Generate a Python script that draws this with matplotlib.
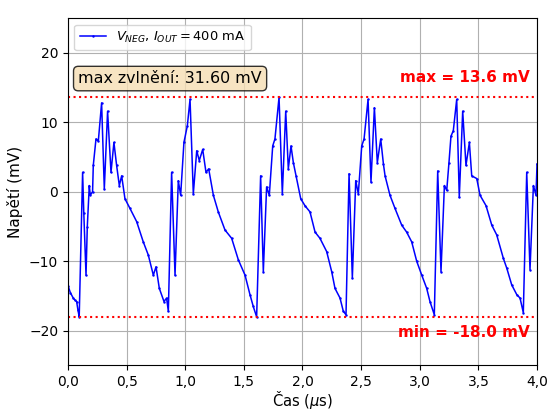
import matplotlib
matplotlib.use("Agg")
import matplotlib.pyplot as plt
from matplotlib.ticker import FuncFormatter

# Measured ripple of the negative rail (time in microseconds, voltage in mV)
t_us = [
    0.000, 0.020, 0.045, 0.060, 0.074, 0.085, 0.096, 0.125, 0.135, 0.154,
    0.165, 0.182, 0.190, 0.210, 0.216, 0.239, 0.259, 0.287, 0.310, 0.338,
    0.367, 0.392, 0.415, 0.438, 0.458, 0.486, 0.529, 0.586, 0.642, 0.685,
    0.728, 0.751, 0.779, 0.819, 0.841, 0.856, 0.884, 0.913, 0.941, 0.961,
    0.989, 1.018, 1.041, 1.069, 1.098, 1.120, 1.149, 1.177, 1.200, 1.240,
    1.282, 1.339, 1.396, 1.453, 1.510, 1.552, 1.580, 1.609, 1.643, 1.666,
    1.694, 1.717, 1.746, 1.765, 1.800, 1.828, 1.857, 1.879, 1.902, 1.922,
    1.945, 1.985, 2.021, 2.064, 2.107, 2.149, 2.206, 2.249, 2.277, 2.320,
    2.348, 2.371, 2.397, 2.425, 2.454, 2.476, 2.505, 2.525, 2.559, 2.584,
    2.613, 2.638, 2.667, 2.690, 2.704, 2.746, 2.789, 2.846, 2.888, 2.931,
    2.974, 3.017, 3.059, 3.087, 3.124, 3.153, 3.181, 3.210, 3.230, 3.249,
    3.266, 3.286, 3.315, 3.337, 3.366, 3.394, 3.423, 3.443, 3.486, 3.514,
    3.565, 3.614, 3.656, 3.713, 3.742, 3.784, 3.827, 3.855, 3.883, 3.912,
    3.940, 3.969, 3.991, 4.000,
]
v_mV = [
    -13.5, -14.5, -15.3, -15.6, -15.8, -17.0, -18.0, 2.8, -3.0, -12.0,
    -5.0, 0.9, -0.5, 0.0, 3.8, 7.6, 7.3, 12.8, 0.4, 11.6,
    2.8, 7.1, 3.8, 0.9, 2.3, -1.0, -2.4, -4.3, -7.2, -9.1,
    -12.0, -10.8, -13.9, -15.8, -15.3, -17.2, 2.8, -12.0, 1.6, -0.5,
    7.1, 9.5, 13.3, -0.3, 5.9, 4.5, 6.1, 2.8, 3.3, -0.5,
    -2.9, -5.5, -6.7, -9.8, -12.0, -14.8, -16.5, -18.0, 2.3, -11.5,
    0.7, -0.5, 6.6, 7.6, 13.6, -0.3, 11.6, 3.3, 6.6, 4.2,
    2.3, -1.0, -2.0, -2.9, -5.8, -6.7, -8.6, -11.5, -13.9, -15.3,
    -17.2, -17.7, 2.6, -12.4, 1.6, -0.3, 6.6, 7.6, 13.3, 1.4,
    12.1, 4.2, 7.6, 4.0, 2.3, -0.5, -2.4, -4.8, -5.8, -7.2,
    -10.0, -12.0, -13.9, -15.8, -17.7, 3.0, -11.5, 0.9, 0.2, 4.2,
    8.0, 8.8, 13.3, -0.8, 11.6, 3.8, 7.1, 2.3, 1.9, -0.5,
    -2.0, -4.8, -6.2, -9.6, -11.0, -13.4, -14.8, -15.3, -17.4, 2.8,
    -11.2, 0.9, -0.5, 4.0,
]

x_ticks = [0.0, 0.5, 1.0, 1.5, 2.0, 2.5, 3.0, 3.5, 4.0]
y_ticks = [-20, -10, 0, 10, 20]

v_max = max(v_mV)
v_min = min(v_mV)
ripple = v_max - v_min

fig = plt.figure(figsize=(5.48, 4.12), dpi=100)
ax = fig.add_axes([0.124, 0.113, 0.856, 0.843])

ax.plot(t_us, v_mV, color="blue", lw=1.1, marker=".", markersize=1.5,
        label=r"$V_{NEG}$, $I_{OUT} = 400$ mA")
ax.axhline(v_max, color="red", ls=":", lw=1.5)
ax.axhline(v_min, color="red", ls=":", lw=1.5)

ax.text(3.94, v_max + 2.9, f"max = {v_max:.1f} mV", color="red",
        fontsize=11, fontweight="bold", ha="right", va="center")
ax.text(3.94, v_min - 2.3, f"min = {v_min:.1f} mV", color="red",
        fontsize=11, fontweight="bold", ha="right", va="center")

ax.text(0.022, 0.826, f"max zvlnění: {ripple:.2f} mV", transform=ax.transAxes,
        fontsize=11.4, ha="left", va="center",
        bbox=dict(boxstyle="round,pad=0.3", facecolor="wheat", alpha=0.8,
                  edgecolor="black"))

ax.set_xlim(0, 4.0)
ax.set_ylim(-25, 25)
ax.set_xticks(x_ticks)
ax.set_yticks(y_ticks)
ax.xaxis.set_major_formatter(FuncFormatter(lambda x, p: f"{x:.1f}".replace(".", ",")))
ax.grid(True, color="#b0b0b0", lw=0.8)
ax.set_xlabel(r"Čas ($\mu$s)", fontsize=10.6, labelpad=0)
ax.set_ylabel("Napětí (mV)", fontsize=11)
ax.legend(loc="upper left", fontsize=9.4)

fig.savefig("out.png", dpi=100)
